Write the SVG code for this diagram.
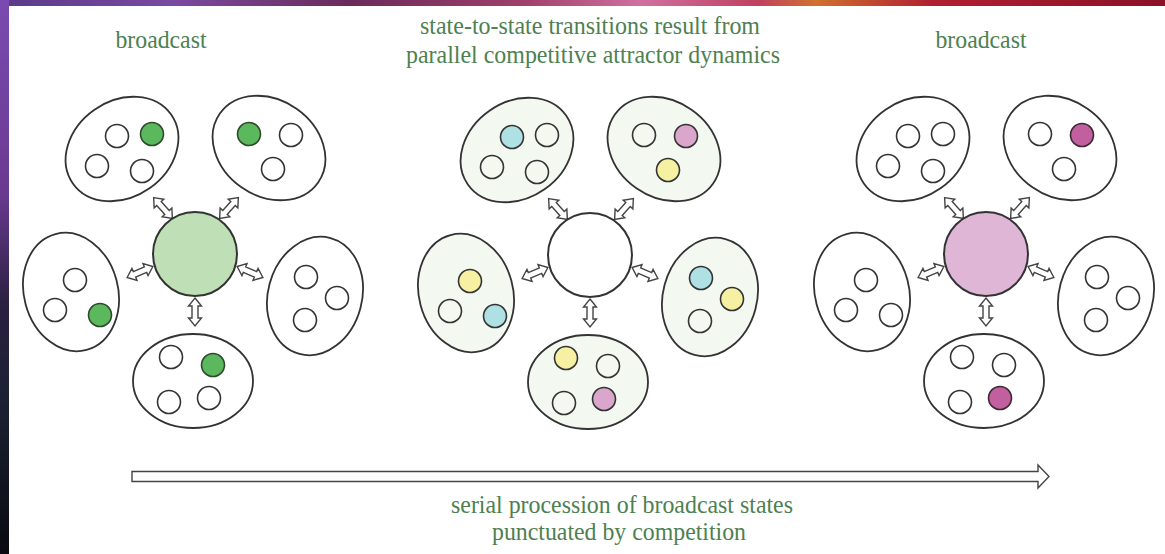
<svg xmlns="http://www.w3.org/2000/svg" xmlns:xlink="http://www.w3.org/1999/xlink" width="1165" height="554" viewBox="0 0 1165 554">
<defs>
<style>
.lbl{font-family:"Liberation Serif","Times New Roman",serif;font-size:26px;fill:#4e8050;text-anchor:middle}
.ell{fill:#fff;stroke:#333;stroke-width:1.8}
.ellg{fill:#f3f8f0;stroke:#333;stroke-width:1.8}
.dot{fill:#fff;stroke:#333;stroke-width:1.6}
.dotg{fill:#f3f8f0;stroke:#333;stroke-width:1.6}
.grn{fill:#5cb85c;stroke:#2e4a2e;stroke-width:1.6}
.mag{fill:#c2609f;stroke:#3a2a35;stroke-width:1.6}
.cyn{fill:#aee0e4;stroke:#333;stroke-width:1.6}
.yel{fill:#f6f0a2;stroke:#333;stroke-width:1.6}
.pnk{fill:#dba6cb;stroke:#333;stroke-width:1.6}
.hub{stroke:#333;stroke-width:2}
.arr{fill:#fff;stroke:#444;stroke-width:1.4;stroke-linejoin:miter}
</style>
<polygon id="dbl" class="arr" points="-14,0 -6,-6.5 -6,-3 6,-3 6,-6.5 14,0 6,6.5 6,3 -6,3 -6,6.5"/>
<linearGradient id="topg" x1="0" y1="0" x2="1" y2="0">
<stop offset="0" stop-color="#5a3a8a"/>
<stop offset="0.15" stop-color="#7a4aa0"/>
<stop offset="0.3" stop-color="#6a2a5a"/>
<stop offset="0.45" stop-color="#a0406a"/>
<stop offset="0.55" stop-color="#d070a0"/>
<stop offset="0.65" stop-color="#c04060"/>
<stop offset="0.7" stop-color="#d07030"/>
<stop offset="0.8" stop-color="#b02030"/>
<stop offset="1" stop-color="#8a1028"/>
</linearGradient>
<linearGradient id="leftg" x1="0" y1="0" x2="0" y2="1">
<stop offset="0" stop-color="#7a4ab0"/>
<stop offset="0.35" stop-color="#6a3a90"/>
<stop offset="0.55" stop-color="#2a2040"/>
<stop offset="0.75" stop-color="#1a2030"/>
<stop offset="1" stop-color="#0a0a10"/>
</linearGradient>
</defs>
<rect x="0" y="0" width="1165" height="554" fill="#fff"/>
<rect x="0" y="0" width="1165" height="6" fill="url(#topg)"/>
<rect x="0" y="0" width="9" height="554" fill="url(#leftg)"/>

<g id="labels">
<text class="lbl" x="161" y="48" textLength="91" lengthAdjust="spacingAndGlyphs">broadcast</text>
<text class="lbl" x="590" y="34" textLength="340" lengthAdjust="spacingAndGlyphs">state-to-state transitions result from</text>
<text class="lbl" x="593" y="63" textLength="374" lengthAdjust="spacingAndGlyphs">parallel competitive attractor dynamics</text>
<text class="lbl" x="981" y="48" textLength="91" lengthAdjust="spacingAndGlyphs">broadcast</text>
<text class="lbl" x="622" y="513" textLength="342" lengthAdjust="spacingAndGlyphs">serial procession of broadcast states</text>
<text class="lbl" x="619" y="540" textLength="254" lengthAdjust="spacingAndGlyphs">punctuated by competition</text>
</g>

<g id="connectors">
<g transform="translate(195,254)">
<use href="#dbl" transform="translate(-32,-46) rotate(48)"/>
<use href="#dbl" transform="translate(34,-46) rotate(-48)"/>
<use href="#dbl" transform="translate(-55,18) rotate(-23)"/>
<use href="#dbl" transform="translate(55,18) rotate(23)"/>
<use href="#dbl" transform="translate(0,58) rotate(90)"/>
</g>
<g transform="translate(590,255)">
<use href="#dbl" transform="translate(-32,-46) rotate(48)"/>
<use href="#dbl" transform="translate(34,-46) rotate(-48)"/>
<use href="#dbl" transform="translate(-55,18) rotate(-23)"/>
<use href="#dbl" transform="translate(55,18) rotate(23)"/>
<use href="#dbl" transform="translate(0,58) rotate(90)"/>
</g>
<g transform="translate(986,254)">
<use href="#dbl" transform="translate(-32,-46) rotate(48)"/>
<use href="#dbl" transform="translate(34,-46) rotate(-48)"/>
<use href="#dbl" transform="translate(-55,18) rotate(-23)"/>
<use href="#dbl" transform="translate(55,18) rotate(23)"/>
<use href="#dbl" transform="translate(0,58) rotate(90)"/>
</g>
<polygon id="timeline" class="arr" stroke-width="1.6" points="132,471.5 1038,471.5 1038,465 1049,476.5 1038,488 1038,481.5 132,481.5"/>
</g>

<!-- Panel 1 -->
<g id="panel1" transform="translate(195,254)">
<circle id="p1-hub" class="hub" cx="0" cy="0" r="42" fill="#bfe0b6"/>
<g id="p1-tl" transform="translate(-73,-105)">
<ellipse class="ell" rx="60" ry="48" transform="rotate(-35)"/>
<circle class="dot" cx="-5" cy="-13" r="11.5"/><circle class="grn" cx="30" cy="-15" r="11.5"/>
<circle class="dot" cx="-25" cy="17" r="11.5"/><circle class="dot" cx="20" cy="22" r="11.5"/>
</g>
<g id="p1-tr" transform="translate(74,-106)">
<ellipse class="ell" rx="60" ry="48" transform="rotate(35)"/>
<circle class="grn" cx="-20" cy="-14" r="11.5"/><circle class="dot" cx="22" cy="-13" r="11.5"/>
<circle class="dot" cx="4" cy="21" r="11.5"/>
</g>
<g id="p1-l" transform="translate(-124,38)">
<ellipse class="ell" rx="47" ry="60" transform="rotate(-15)"/>
<circle class="dot" cx="4" cy="-12" r="11.5"/><circle class="dot" cx="-16" cy="18" r="11.5"/>
<circle class="grn" cx="29" cy="23" r="11.5"/>
</g>
<g id="p1-r" transform="translate(120,42)">
<ellipse class="ell" rx="47" ry="60" transform="rotate(15)"/>
<circle class="dot" cx="-9" cy="-19" r="11.5"/><circle class="dot" cx="22" cy="2" r="11.5"/>
<circle class="dot" cx="-10" cy="24" r="11.5"/>
</g>
<g id="p1-b" transform="translate(-2,127)">
<ellipse class="ell" rx="60" ry="47"/>
<circle class="dot" cx="-22" cy="-24" r="11.5"/><circle class="grn" cx="20" cy="-16" r="11.5"/>
<circle class="dot" cx="-24" cy="21" r="11.5"/><circle class="dot" cx="16" cy="17" r="11.5"/>
</g>
</g>

<!-- Panel 2 -->
<g id="panel2" transform="translate(590,255)">
<circle id="p2-hub" class="hub" cx="0" cy="0" r="42" fill="#fff"/>
<g id="p2-tl" transform="translate(-73,-105)">
<ellipse class="ellg" rx="60" ry="48" transform="rotate(-35)"/>
<circle class="cyn" cx="-5" cy="-13" r="11.5"/><circle class="dotg" cx="30" cy="-15" r="11.5"/>
<circle class="dotg" cx="-25" cy="17" r="11.5"/><circle class="dotg" cx="20" cy="22" r="11.5"/>
</g>
<g id="p2-tr" transform="translate(74,-106)">
<ellipse class="ellg" rx="60" ry="48" transform="rotate(35)"/>
<circle class="dotg" cx="-20" cy="-14" r="11.5"/><circle class="pnk" cx="22" cy="-13" r="11.5"/>
<circle class="yel" cx="4" cy="21" r="11.5"/>
</g>
<g id="p2-l" transform="translate(-124,38)">
<ellipse class="ellg" rx="47" ry="60" transform="rotate(-15)"/>
<circle class="yel" cx="4" cy="-12" r="11.5"/><circle class="dotg" cx="-16" cy="18" r="11.5"/>
<circle class="cyn" cx="29" cy="23" r="11.5"/>
</g>
<g id="p2-r" transform="translate(120,42)">
<ellipse class="ellg" rx="47" ry="60" transform="rotate(15)"/>
<circle class="cyn" cx="-9" cy="-19" r="11.5"/><circle class="yel" cx="22" cy="2" r="11.5"/>
<circle class="dotg" cx="-10" cy="24" r="11.5"/>
</g>
<g id="p2-b" transform="translate(-2,127)">
<ellipse class="ellg" rx="60" ry="47"/>
<circle class="yel" cx="-22" cy="-24" r="11.5"/><circle class="dotg" cx="20" cy="-16" r="11.5"/>
<circle class="dotg" cx="-24" cy="21" r="11.5"/><circle class="pnk" cx="16" cy="17" r="11.5"/>
</g>
</g>

<!-- Panel 3 -->
<g id="panel3" transform="translate(986,254)">
<circle id="p3-hub" class="hub" cx="0" cy="0" r="42" fill="#e0b6d6"/>
<g id="p3-tl" transform="translate(-73,-105)">
<ellipse class="ell" rx="60" ry="48" transform="rotate(-35)"/>
<circle class="dot" cx="-5" cy="-13" r="11.5"/><circle class="dot" cx="30" cy="-15" r="11.5"/>
<circle class="dot" cx="-25" cy="17" r="11.5"/><circle class="dot" cx="20" cy="22" r="11.5"/>
</g>
<g id="p3-tr" transform="translate(74,-106)">
<ellipse class="ell" rx="60" ry="48" transform="rotate(35)"/>
<circle class="dot" cx="-20" cy="-14" r="11.5"/><circle class="mag" cx="22" cy="-13" r="11.5"/>
<circle class="dot" cx="4" cy="21" r="11.5"/>
</g>
<g id="p3-l" transform="translate(-124,38)">
<ellipse class="ell" rx="47" ry="60" transform="rotate(-15)"/>
<circle class="dot" cx="4" cy="-12" r="11.5"/><circle class="dot" cx="-16" cy="18" r="11.5"/>
<circle class="dot" cx="29" cy="23" r="11.5"/>
</g>
<g id="p3-r" transform="translate(120,42)">
<ellipse class="ell" rx="47" ry="60" transform="rotate(15)"/>
<circle class="dot" cx="-9" cy="-19" r="11.5"/><circle class="dot" cx="22" cy="2" r="11.5"/>
<circle class="dot" cx="-10" cy="24" r="11.5"/>
</g>
<g id="p3-b" transform="translate(-2,127)">
<ellipse class="ell" rx="60" ry="47"/>
<circle class="dot" cx="-22" cy="-24" r="11.5"/><circle class="dot" cx="20" cy="-16" r="11.5"/>
<circle class="dot" cx="-24" cy="21" r="11.5"/><circle class="mag" cx="16" cy="17" r="11.5"/>
</g>
</g>
</svg>
